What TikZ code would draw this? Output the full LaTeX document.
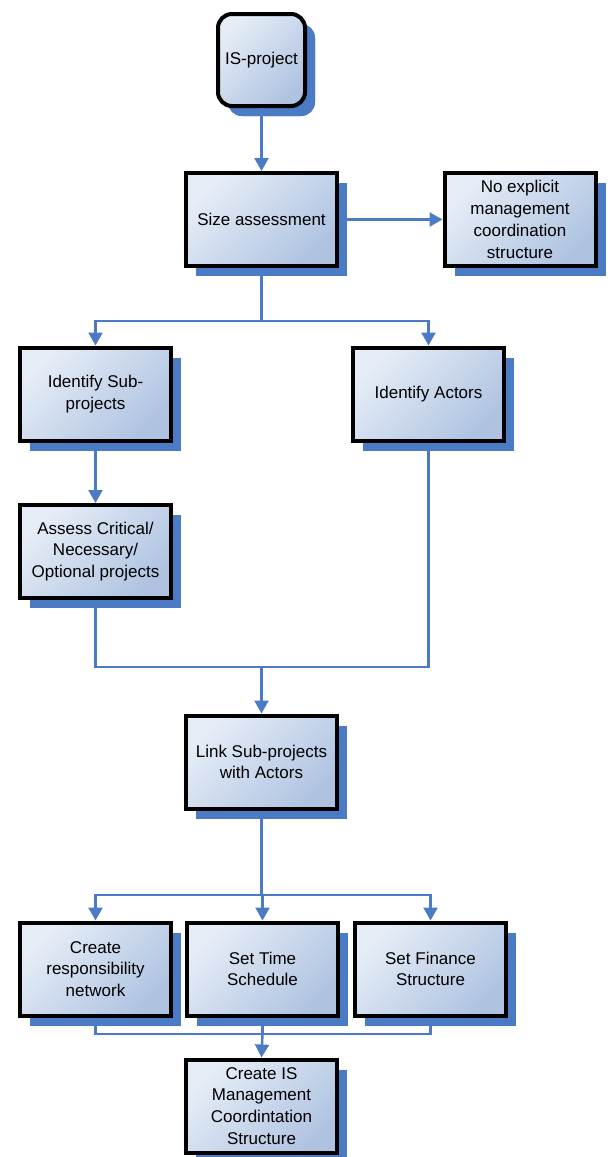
\documentclass[tikz,border=0pt]{standalone}
\usepackage{fontspec}
\setmainfont{Liberation Sans}
\usetikzlibrary{shadows,arrows.meta}
\definecolor{lnblue}{HTML}{4A7BC4}
\definecolor{shblue}{HTML}{4A7BC4}
\definecolor{flight}{HTML}{E6EDF7}
\definecolor{fdark}{HTML}{AFC3E1}
\tikzset{
  stepbox/.style={draw=black, line width=4pt, top color=flight, bottom color=fdark, shading angle=45,
    minimum width=151pt, minimum height=93pt, align=center, inner sep=2pt,
    font=\fontsize{17}{21.8}\selectfont,
    general shadow={fill=shblue, shadow xshift=10pt, shadow yshift=-10pt, rounded corners=2pt}},
  startbox/.style={stepbox, minimum width=87pt, minimum height=92pt, rounded corners=14pt,
    general shadow={fill=shblue, shadow xshift=10pt, shadow yshift=-10pt, rounded corners=14pt}},
  conn/.style={draw=lnblue, line width=2.4pt},
  arr/.style={conn, -{Triangle[width=14pt,length=13pt]}}
}
\begin{document}
\begin{tikzpicture}[x=1pt,y=-1pt]
\useasboundingbox (0,0) rectangle (611,1157);
\node[startbox] (isp) at (261.5,60) {IS-project};
\node[stepbox] (size) at (261.5,219.5) {Size assessment};
\node[stepbox] (noexp) at (520,219.5) {No explicit\\management\\coordination\\structure};
\node[stepbox] (idsub) at (95.5,394) {Identify Sub-\\projects};
\node[stepbox] (idact) at (428.5,394) {Identify Actors};
\node[stepbox] (assess) at (95.5,551.5) {Assess Critical/\\Necessary/\\Optional projects};
\node[stepbox] (link) at (261.5,762) {Link Sub-projects\\with Actors};
\node[stepbox] (resp) at (95.5,969) {Create\\responsibility\\network};
\node[stepbox] (time) at (262.5,969) {Set Time\\Schedule};
\node[stepbox] (fin) at (430.5,969) {Set Finance\\Structure};
\node[stepbox] (cis) at (261.5,1106) {Create IS\\Management\\Coordintation\\Structure};
\coordinate (f1) at (261.5,321);
\coordinate (j2) at (261.5,667);
\coordinate (f3) at (261.5,895);
\coordinate (j4) at (262.5,1034);
\draw[arr] (isp.south) -- (size.north);
\draw[arr] (size.east) -- (noexp.west);
\draw[conn] (size.south) -- (f1);
\draw[arr] (f1) -| (idsub.north);
\draw[arr] (f1) -| (idact.north);
\draw[arr] (idsub.south) -- (assess.north);
\draw[conn] (assess.south) |- (j2);
\draw[conn] (idact.south) |- (j2);
\draw[arr] (j2) -- (link.north);
\draw[conn] (link.south) -- (f3);
\draw[arr] (f3) -| (resp.north);
\draw[arr] (f3) -| (time.north);
\draw[arr] (f3) -| (fin.north);
\draw[conn] (resp.south) |- (j4);
\draw[conn] (fin.south) |- (j4);
\draw[conn] (time.south) -- (j4);
\draw[arr] (j4) -- (cis.north);
\end{tikzpicture}
\end{document}
